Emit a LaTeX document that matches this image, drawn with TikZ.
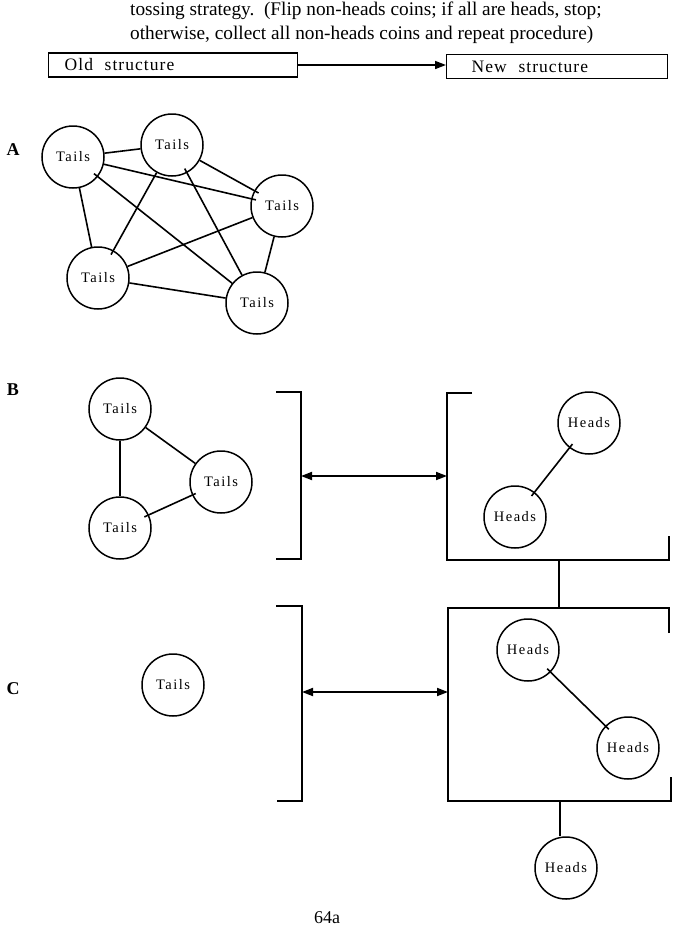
\documentclass[tikz,border=0pt]{standalone}
\usepackage{fontspec}
\setmainfont{Liberation Serif}
\newfontfamily\lblfont[LetterSpace=10]{Liberation Serif}
\newfontfamily\hdrfont[LetterSpace=6]{Liberation Serif}
\usetikzlibrary{arrows.meta}
\begin{document}
\begin{tikzpicture}[x=1pt,y=-1pt,
  coin/.style={circle,draw,line width=1.5pt,minimum size=62pt,inner sep=0pt,
    font=\lblfont\fontsize{14.5}{16}\selectfont},
  link/.style={line width=1.6pt},
  thinlink/.style={line width=1.1pt},
  poke/.style={shorten >=-5pt},
  frame/.style={line width=1.6pt},
  hdrbox/.style={draw,line width=1.4pt,minimum height=24pt,align=left,
    inner ysep=0pt,font=\hdrfont\fontsize{17.5}{19}\selectfont},
  onearrow/.style={line width=1.6pt,-{Triangle[length=11pt,width=8pt]}},
  twoarrow/.style={line width=1.8pt,{Triangle[length=11pt,width=8pt]}-{Triangle[length=11pt,width=8pt]}},
  rowletter/.style={font=\bfseries\fontsize{18}{20}\selectfont}]
\useasboundingbox (0,0) rectangle (682,932);

% intro text
\node[anchor=north west,align=left,inner sep=0pt,
  font=\fontsize{19.3}{24}\selectfont] (intro) at (130,2)
  {tossing strategy.\ \ (Flip non-heads coins; if all are heads, stop;\\
   otherwise, collect all non-heads coins and repeat procedure)};

% header
\node[hdrbox,anchor=west,inner xsep=16pt,text width=217pt] (old) at (48,65) {Old\ \ structure};
\node[hdrbox,anchor=west,inner xsep=25pt,text width=171pt] (new) at (446,66.5) {New\ \ structure};
\draw[onearrow] (old.east) -- (old.east -| new.west);

% ---------- A ----------
\node[rowletter] (la) at (13,150) {A};
\node[coin] (a1) at (73,157) {Tails};
\node[coin] (a2) at (172,145) {Tails};
\node[coin] (a3) at (282,206) {Tails};
\node[coin] (a4) at (98,278) {Tails};
\node[coin] (a5) at (257,303) {Tails};
\draw[link] (a1) -- (a2);
\draw[link,poke] (a1) -- (a3);
\draw[link] (a1) -- (a4);
\draw[link,poke] (a5) -- (a1);
\draw[link,poke] (a2) -- (a3);
\draw[link,poke] (a2) -- (a4);
\draw[link,poke] (a5) -- (a2);
\draw[link] (a3) -- (a4);
\draw[link] (a3) -- (a5);
\draw[link] (a4) -- (a5);

% ---------- B ----------
\node[rowletter] (lb) at (13,390) {B};
\node[coin] (b1) at (120,409) {Tails};
\node[coin] (b2) at (221,482) {Tails};
\node[coin] (b3) at (120,528) {Tails};
\draw[link] (b1) -- (b2);
\draw[thinlink] (b1) -- (b3);
\draw[link,poke,shorten <=-4pt] (b2) -- (b3);

\draw[frame] (276,392) -- (301,392) -- (301,559) -- (276,559);
\draw[frame] (472,393) -- (447,393) -- (447,560) -- (669,560) -- (669,536);
\coordinate (bl) at (301,476);
\coordinate (br) at (447,476);
\draw[twoarrow] (bl) -- (br);

\node[coin] (bh1) at (589,423) {Heads};
\node[coin] (bh2) at (515,517) {Heads};
\draw[link,poke,shorten <=-5pt] (bh1) -- (bh2);

% ---------- C ----------
\node[rowletter] (lc) at (13,689) {C};
\node[coin] (c1) at (173,685) {Tails};

\draw[frame] (276,606) -- (302,606) -- (302,801) -- (277,801);
\draw[frame] (669,633) -- (669,608) -- (448,608) -- (448,801) -- (671,801) -- (671,777);
\coordinate (cl) at (302,692);
\coordinate (cr) at (448,692);
\draw[twoarrow] (cl) -- (cr);

\coordinate (btop) at (559,560);
\coordinate (ctop) at (559,608);
\draw[thinlink] (btop) -- (ctop);

\node[coin] (ch1) at (528,650) {Heads};
\node[coin] (ch2) at (628,748) {Heads};
\node[coin] (ch3) at (566,868) {Heads};
\draw[link,poke,shorten <=-5pt] (ch1) -- (ch2);
\coordinate (cbot) at (560,801);
\draw[thinlink] (cbot) -- (cbot |- ch3.north);

% page number
\node[anchor=south,inner sep=1pt,font=\fontsize{18}{20}\selectfont] (pg) at (327,925) {64a};
\end{tikzpicture}
\end{document}
